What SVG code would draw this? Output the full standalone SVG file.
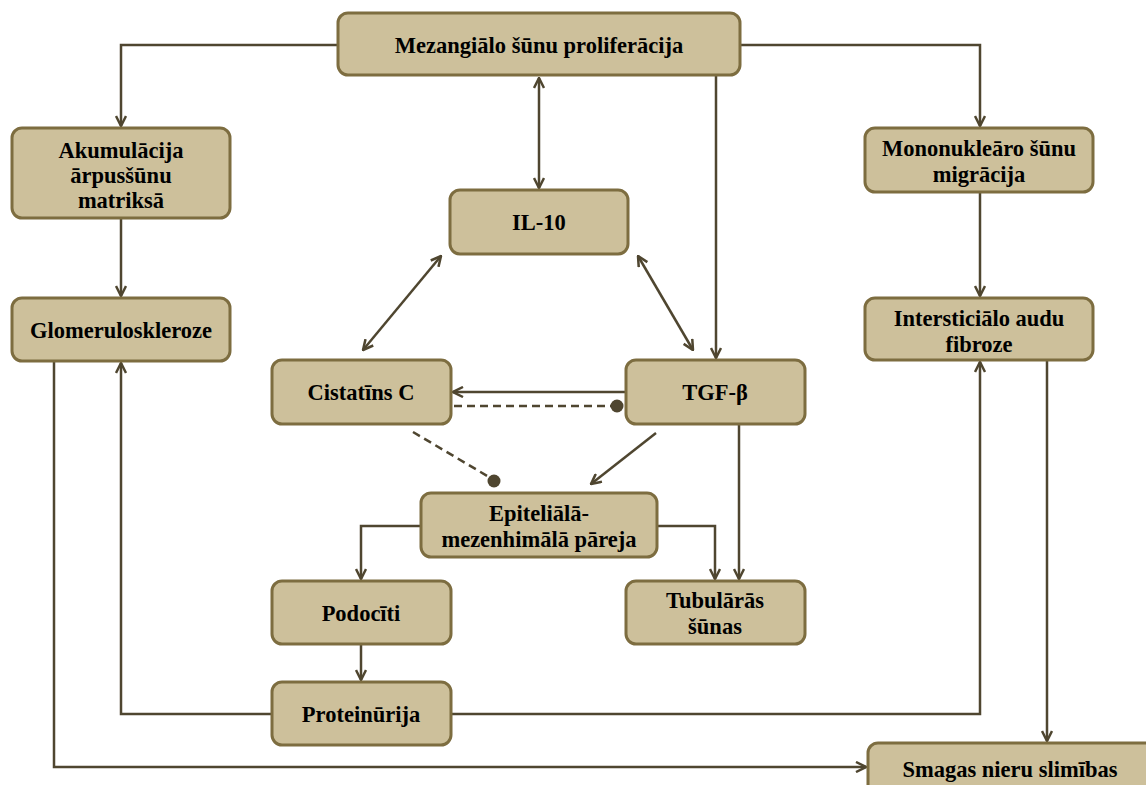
<svg xmlns="http://www.w3.org/2000/svg" width="1146" height="785" viewBox="0 0 1146 785">
<defs>
<style>
.box{fill:#cdc09b;stroke:#7d6d40;stroke-width:3}
.t{font-family:"Liberation Serif","Times New Roman",serif;font-weight:bold;font-size:22.5px;fill:#000;text-anchor:middle}
.c{fill:none;stroke:#4f4630;stroke-width:2.5}
.d{fill:none;stroke:#4f4630;stroke-width:2.5;stroke-dasharray:8 5}
</style>
<marker id="a" viewBox="0 0 12 12" refX="11" refY="6" markerWidth="12" markerHeight="12" markerUnits="userSpaceOnUse" orient="auto-start-reverse">
<polyline points="1,1 11,6 1,11" fill="none" stroke="#4f4630" stroke-width="2.5"/>
</marker>
</defs>
<rect width="1146" height="785" fill="#fff"/>
<g id="connectors">
<polyline class="c" points="338,45 121,45 121,126" marker-end="url(#a)"/>
<polyline class="c" points="740,45 980,45 980,126" marker-end="url(#a)"/>
<line class="c" x1="539" y1="78" x2="539" y2="188" marker-start="url(#a)" marker-end="url(#a)"/>
<line class="c" x1="716" y1="75" x2="716" y2="358" marker-end="url(#a)"/>
<line class="c" x1="121" y1="218" x2="121" y2="296" marker-end="url(#a)"/>
<line class="c" x1="980" y1="192" x2="980" y2="296" marker-end="url(#a)"/>
<line class="c" x1="441" y1="256" x2="363" y2="350" marker-start="url(#a)" marker-end="url(#a)"/>
<line class="c" x1="638" y1="256" x2="693" y2="350" marker-start="url(#a)" marker-end="url(#a)"/>
<line class="c" x1="626" y1="392" x2="453" y2="392" marker-end="url(#a)"/>
<line class="d" x1="454" y1="406" x2="612" y2="406"/>
<circle cx="617" cy="406" r="6.5" fill="#4f4630"/>
<line class="d" x1="413" y1="432" x2="489" y2="477"/>
<circle cx="494" cy="481" r="6.5" fill="#4f4630"/>
<line class="c" x1="656" y1="433" x2="591" y2="484" marker-end="url(#a)"/>
<line class="c" x1="739" y1="424" x2="739" y2="579" marker-end="url(#a)"/>
<polyline class="c" points="421,526 361,526 361,579" marker-end="url(#a)"/>
<polyline class="c" points="657,526 715,526 715,579" marker-end="url(#a)"/>
<line class="c" x1="361" y1="644" x2="361" y2="680" marker-end="url(#a)"/>
<polyline class="c" points="272,714 121,714 121,363" marker-end="url(#a)"/>
<polyline class="c" points="451,714 980,714 980,362" marker-end="url(#a)"/>
<polyline class="c" points="54,361 54,767 866,767" marker-end="url(#a)"/>
<line class="c" x1="1047" y1="360" x2="1047" y2="741" marker-end="url(#a)"/>
</g>
<g id="n-mezang"><rect class="box" x="338" y="13" width="402" height="62" rx="10"/><text class="t" x="539" y="53">Mezangiālo šūnu proliferācija</text></g>
<g id="n-akum"><rect class="box" x="12" y="128" width="218" height="90" rx="10"/><text class="t" x="121" y="158">Akumulācija</text><text class="t" x="121" y="183">ārpusšūnu</text><text class="t" x="121" y="208">matriksā</text></g>
<g id="n-glom"><rect class="box" x="12" y="298" width="218" height="63" rx="10"/><text class="t" x="121" y="338">Glomeruloskleroze</text></g>
<g id="n-mono"><rect class="box" x="865" y="128" width="228" height="64" rx="10"/><text class="t" x="979" y="156">Mononukleāro šūnu</text><text class="t" x="979" y="182">migrācija</text></g>
<g id="n-inter"><rect class="box" x="865" y="298" width="228" height="62" rx="10"/><text class="t" x="979" y="326">Intersticiālo audu</text><text class="t" x="979" y="352">fibroze</text></g>
<g id="n-il10"><rect class="box" x="450" y="190" width="178" height="64" rx="10"/><text class="t" x="539" y="230">IL-10</text></g>
<g id="n-cist"><rect class="box" x="272" y="360" width="179" height="64" rx="10"/><text class="t" x="361" y="400">Cistatīns C</text></g>
<g id="n-tgf"><rect class="box" x="626" y="360" width="179" height="64" rx="10"/><text class="t" x="715" y="400">TGF-β</text></g>
<g id="n-epit"><rect class="box" x="421" y="493" width="236" height="64" rx="10"/><text class="t" x="539" y="521">Epiteliālā-</text><text class="t" x="539" y="547">mezenhimālā pāreja</text></g>
<g id="n-podo"><rect class="box" x="272" y="581" width="179" height="63" rx="10"/><text class="t" x="361" y="621">Podocīti</text></g>
<g id="n-tub"><rect class="box" x="626" y="581" width="179" height="63" rx="10"/><text class="t" x="715" y="608">Tubulārās</text><text class="t" x="715" y="634">šūnas</text></g>
<g id="n-prot"><rect class="box" x="272" y="682" width="179" height="63" rx="10"/><text class="t" x="361" y="722">Proteinūrija</text></g>
<g id="n-smag"><rect class="box" x="868" y="743" width="290" height="60" rx="10"/><text class="t" x="1010" y="777">Smagas nieru slimības</text></g>
</svg>
